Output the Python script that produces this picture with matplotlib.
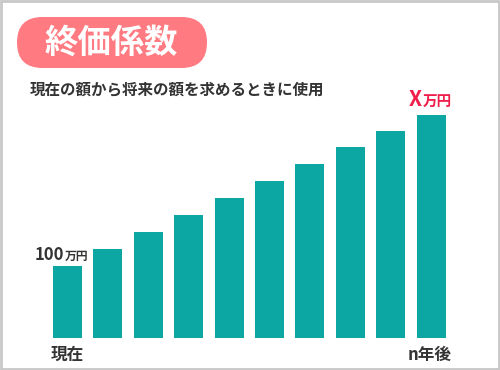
import matplotlib
matplotlib.use("Agg")
import matplotlib.pyplot as plt
from matplotlib.patches import FancyBboxPatch, Rectangle

plt.rcParams['font.family'] = ['Noto Sans CJK JP', 'DejaVu Sans']

# データ（1本目を100万円とした相対値）
years = list(range(10))
values = [100, 124, 147, 171, 194, 218, 242, 265, 288, 310]
title = "終価係数"
subtitle = "現在の額から将来の額を求めるときに使用"
start_label = "現在"
end_label = "n年後"

W, H = 500, 370
fig = plt.figure(figsize=(W / 100, H / 100), dpi=100)

# 背景用オーバーレイ（ピクセル座標、上から測る）
bg = fig.add_axes([0, 0, 1, 1])
bg.set_xlim(0, W)
bg.set_ylim(0, H)
bg.axis('off')


def py(y):
    return H - y


bg.add_patch(Rectangle((1, 1), W - 2, H - 2, fill=False, edgecolor='#c8c8c8', linewidth=2))

# タイトルの角丸
bg.add_patch(FancyBboxPatch((17, py(68)), 190, 51,
                            boxstyle="round,pad=0,rounding_size=25.5",
                            facecolor='#ff7b81', edgecolor='none'))
bg.text(111, py(43), title, color='white', fontsize=24, fontweight='bold',
        ha='center', va='center')
bg.text(30, py(89), subtitle, color='#333333', fontsize=11.2, fontweight='bold',
        ha='left', va='center')

# 棒グラフ
pitch = 40.4
left = 47.3
base = 338
scale = 0.72
ymax = 320
ax = fig.add_axes([left / W, 1 - base / H, pitch * 10 / W, ymax * scale / H])
ax.bar(years, values, width=0.72, color='#0ca6a3')
ax.set_xlim(-0.5, 9.5)
ax.set_ylim(0, ymax)
ax.axis('off')

# ラベル
bg.text(64, py(260), "100", color='#333333', fontsize=12, fontweight='bold',
        ha='right', va='baseline')
bg.text(64.5, py(260), "万円", color='#333333', fontsize=8.5, fontweight='bold',
        ha='left', va='baseline')

bg.text(421.5, py(106), "X", color='#f01e4a', fontsize=15, fontweight='bold',
        ha='right', va='baseline')
bg.text(422.5, py(106), "万円", color='#f01e4a', fontsize=10.5, fontweight='bold',
        ha='left', va='baseline')

bg.text(67, py(355), start_label, color='#333333', fontsize=12, fontweight='bold',
        ha='center', va='center')
bg.text(430, py(355), end_label, color='#333333', fontsize=12, fontweight='bold',
        ha='center', va='center')

fig.savefig("out.png", dpi=100)
